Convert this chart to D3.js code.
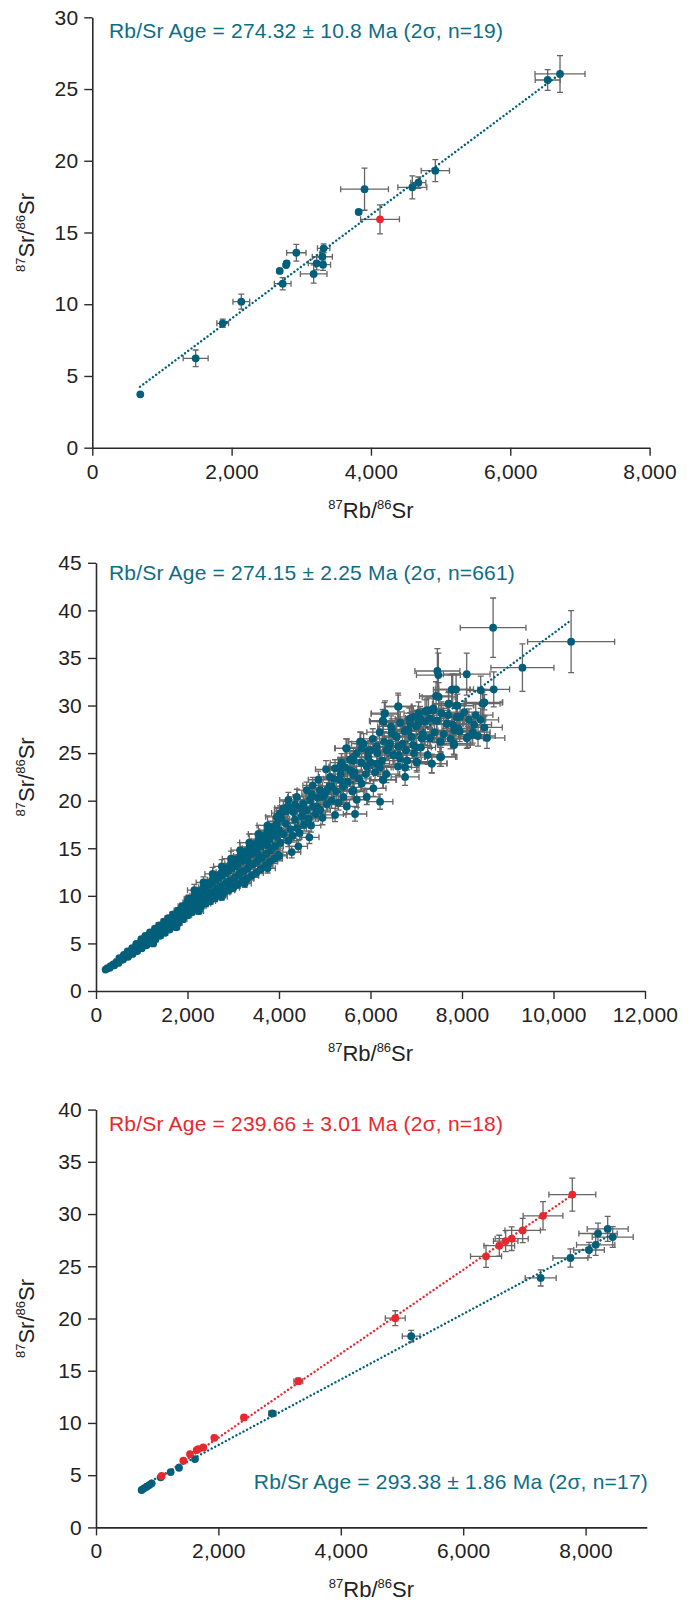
<!DOCTYPE html>
<html>
<head>
<meta charset="utf-8">
<script src="https://cdn.jsdelivr.net/npm/d3@7"></script>
<style>
  body { margin: 0; background: #fff; }
  text { font-family: "Liberation Sans", Arial, Helvetica, sans-serif; }
</style>
</head>
<body>
<div id="chart"></div>
<script>

// ---- values, each point is [x, y, xErr, yErr] ----

// panel A
var aTeal = [
  [689, 3.72, 20, 0.1], [1484, 6.23, 179, 0.58], [1872, 8.67, 84, 0.29], [2139, 10.18, 120, 0.52],
  [2690, 12.32, 30, 0.15], [2781, 12.73, 30, 0.15], [2790, 12.85, 30, 0.15], [2733, 11.43, 120, 0.43],
  [2929, 13.59, 139, 0.58], [3178, 12.11, 191, 0.64], [3221, 12.85, 120, 0.45], [3302, 13.31, 144, 0.4],
  [3312, 12.76, 108, 0.4], [3321, 13.9, 89, 0.31], [3824, 16.43, 30, 0.15], [3908, 18.02, 343, 1.47],
  [4594, 18.15, 208, 0.8], [4680, 18.47, 108, 0.4], [4924, 19.31, 203, 0.77], [6537, 25.63, 179, 0.72],
  [6714, 26.05, 359, 1.28]
];
var aRed = [[4130, 15.92, 279, 1.01]];
var aFit = [[685, 4.25], [6714, 26.05]];

// panel B (dense)
var bTeal = [
  [210,2.25,15,0.08],[250,2.4,15,0.08],[300,2.45,18,0.09],[330,2.65,18,0.09],[400,2.7,22,0.1],[430,2.95,22,0.1],
  [490,2.95,25,0.11],[520,3.2,26,0.11],[510,3.45,26,0.12],
  [590,3.3,30,0.12],[620,3.55,30,0.13],[610,3.8,30,0.13],
  [700,3.6,34,0.13],[720,3.9,35,0.14],[690,4.15,34,0.15],
  [800,3.9,38,0.14],[830,4.25,40,0.15],[790,4.5,38,0.16],
  [900,4.2,42,0.15],[930,4.6,44,0.17],[880,4.95,42,0.18],
  [1000,4.5,46,0.17],[1030,5.0,48,0.18],[990,5.45,46,0.2],
  [1100,4.8,50,0.18],[1120,5.3,52,0.19],[1080,5.8,50,0.21],
  [1200,5.1,55,0.19],[1220,5.65,56,0.2],[1180,6.15,54,0.22],
  [1300,5.45,60,0.2],[1330,6.0,62,0.22],[1290,6.55,60,0.24],
  [1400,5.8,64,0.21],[1420,6.35,65,0.23],[1380,6.9,64,0.25],
  [1500,6.1,68,0.22],[1530,6.7,70,0.24],[1490,7.3,68,0.27],
  [1600,6.45,72,0.24],[1620,7.05,74,0.26],[1580,7.65,72,0.28],
  [1700,6.8,78,0.25],[1720,7.4,79,0.27],[1690,8.05,78,0.3],
  [1800,7.15,82,0.26],[1830,7.8,84,0.28],[1790,8.45,82,0.31],
  [1900,7.55,86,0.27],[1920,8.2,88,0.3],[1880,8.9,86,0.33],
  [2000,7.95,90,0.29],[2030,8.6,92,0.31],[1990,9.3,90,0.34],[2020,9.7,92,0.36],
  [2100,8.3,95,0.3],[2120,8.95,96,0.32],[2090,9.65,95,0.35],[2150,10.0,98,0.37],
  [2200,8.6,100,0.31],[2230,9.3,101,0.34],[2190,10.0,99,0.37],[2250,10.5,102,0.39],
  [2300,8.9,104,0.32],[2320,9.65,105,0.35],[2290,10.4,104,0.38],[2350,10.9,107,0.4],
  [2400,9.2,108,0.34],[2430,10.0,110,0.36],[2390,10.8,108,0.4],[2450,11.3,111,0.42],
  [2500,9.45,113,0.35],[2520,10.3,114,0.38],[2490,11.2,112,0.41],[2550,11.7,116,0.43],
  [2600,9.75,118,0.36],[2630,10.7,119,0.39],[2590,11.6,117,0.43],[2650,12.1,120,0.45],
  [2700,10.05,122,0.37],[2720,11.0,123,0.41],[2690,11.9,122,0.44],[2750,12.5,125,0.46],
  [2800,10.35,127,0.38],[2830,11.3,128,0.42],[2790,12.3,126,0.45],[2850,12.9,129,0.48],
  [2900,10.6,131,0.39],[2920,11.6,132,0.43],[2890,12.6,131,0.47],[2950,13.4,134,0.5],
  [3000,10.85,136,0.4],[3030,11.9,137,0.44],[2990,13.0,135,0.48],[3050,13.8,138,0.51],
  [3100,11.2,140,0.41],[3120,12.2,141,0.45],[3090,13.3,140,0.49],[3150,14.2,143,0.53],
  [3200,11.5,145,0.43],[3230,12.6,146,0.47],[3190,13.7,144,0.51],[3250,14.6,147,0.54],
  [3300,11.8,150,0.44],[3320,12.9,150,0.48],[3290,14.0,149,0.52],[3350,15.0,152,0.56],
  [3400,12.1,154,0.45],[3430,13.3,155,0.49],[3390,14.4,154,0.53],[3450,15.4,156,0.57],
  [3500,12.4,158,0.46],[3520,13.6,159,0.5],[3490,14.8,158,0.55],[3550,15.8,161,0.59],
  [3600,12.8,163,0.47],[3630,14.0,164,0.52],[3590,15.2,162,0.56],[3650,16.3,165,0.6],
  [3700,13.2,167,0.49],[3720,14.4,168,0.53],[3690,15.6,167,0.58],[3750,16.8,170,0.62],
  [3800,13.6,172,0.5],[3830,14.8,173,0.55],[3790,16.0,171,0.59],[3850,17.2,174,0.64],
  [3900,13.9,176,0.51],[3920,15.2,177,0.56],[3890,16.5,176,0.61],[3950,17.6,179,0.65],
  [4000,14.2,181,0.53],[4030,15.6,182,0.58],[4000,16.9,181,0.63],[4050,18.1,183,0.67],
  [2150,10.6,150,0.6],[2350,11.4,160,0.6],[2550,12.3,170,0.7],[2750,13.1,180,0.7],[2950,13.9,190,0.8],[3150,14.8,200,0.8],
  [3350,15.6,210,0.9],[3550,16.5,220,0.9],[3750,17.4,230,1.0],[3950,18.3,240,1.0],[4150,18.9,250,1.0],[4350,19.6,250,1.0],
  [1250,5.0,55,0.2],[1750,6.7,78,0.25],[2250,8.4,100,0.3],[2750,9.9,120,0.35],[3250,11.3,145,0.4],[3750,12.9,170,0.5],
  [1050,5.25,48,0.18],[1450,6.6,66,0.23],[1850,8.1,84,0.3],[2250,9.6,101,0.35],[2650,10.4,120,0.4],[2950,11.25,133,0.42],
  [3150,12.5,142,0.46],[3350,13.4,151,0.49],[3550,14.3,160,0.52],[3750,15.3,169,0.56],[3950,16.3,178,0.6],
  [2784,10.5,130,0.4],[3221,11.66,145,0.45],[3986,14.3,180,0.55],[4278,14.6,195,0.6],[4423,15.2,200,0.6],[4664,16.15,210,0.65],
  [4100,16.5,185,0.65],[4150,17.6,188,0.7],[4200,15.8,190,0.62],[4250,17.0,192,0.68],[4300,16.3,195,0.65],[4350,18.0,197,0.72],
  [4400,17.1,199,0.68],[4450,16.6,201,0.66],[4500,18.4,204,0.74],[4550,17.5,206,0.7],[4600,19.0,208,0.76],[4650,18.1,210,0.72],
  [4700,17.4,213,0.7],[4750,19.4,215,0.78],[4800,18.6,217,0.74],[4850,20.3,219,0.81],[4900,19.0,222,0.76],[4950,18.2,224,0.73],
  [5000,20.7,226,0.83],[5050,19.6,228,0.78],[5100,21.5,231,0.86],[5150,20.0,233,0.8],[5200,22.3,235,0.89],[5250,21.0,237,0.84],
  [5300,19.8,240,0.79],[5350,22.8,242,0.91],[5400,21.5,244,0.86],[5450,23.5,246,0.94],[5500,22.0,249,0.88],[5550,24.3,251,0.97],
  [5600,21.0,253,0.84],[5650,23.0,255,0.92],[5700,25.0,258,1.0],[5750,22.3,260,0.89],[5800,24.0,262,0.96],[5850,26.0,264,1.04],
  [5900,22.8,267,0.91],[5950,25.2,269,1.01],[6000,24.0,271,0.96],[6050,26.5,273,1.06],[6100,23.0,276,0.92],[6150,25.0,278,1.0],
  [6200,27.2,280,1.09],[6250,24.2,282,0.97],[6300,26.2,285,1.05],[6350,22.8,287,0.91],[6400,25.6,289,1.02],[6450,27.8,291,1.11],
  [6500,24.8,294,0.99],[6550,26.8,296,1.07],[6600,23.6,298,0.94],[6650,28.2,300,1.13],[6700,26.0,303,1.04],[6750,27.3,305,1.09],
  [6800,24.2,307,0.97],[6850,28.6,309,1.14],[6900,26.7,312,1.07],[6950,25.0,314,1.0],[7000,27.8,316,1.11],[7050,29.2,318,1.17],
  [7100,25.6,321,1.02],[7150,27.0,323,1.08],[7200,28.3,325,1.13],[7250,24.8,327,0.99],[7400,27.2,334,1.09],[7450,28.4,337,1.14],
  [7550,29.2,341,1.17],[7600,27.0,343,1.08],[7700,29.0,348,1.16],[7750,26.5,350,1.06],[7800,28.0,352,1.12],[7900,30.0,357,1.2],
  [7950,27.3,359,1.09],[8050,29.3,364,1.17],[8150,28.5,368,1.14],[8300,29.0,375,1.16],[8350,26.8,377,1.07],[8450,30.2,382,1.21],
  [5481,25.5,250,1.0],[5772,26.2,260,1.0],[6303,29.1,290,1.2],[6610,29.9,300,1.2],[6282,28.3,285,1.1],
  [5028,23.3,230,0.9],[5225,23.4,240,0.9],[5364,24.0,245,0.95],[5626,24.2,255,0.95],
  [4737,21.6,215,0.85],[4715,20.7,215,0.8],[5043,21.05,230,0.85],[4825,19.4,220,0.75],
  [4460,19.2,205,0.75],[4096,19.2,190,0.75],[5225,18.5,240,0.7],[5662,18.6,255,0.75],[5481,19.4,250,0.75],[6209,19.9,280,0.8],
  [5808,21.8,265,0.85],[6063,21.3,275,0.85],[6267,22.2,285,0.9],[5626,22.7,255,0.9],[5918,23.6,270,0.95],[6137,23.9,280,0.95],
  [6610,25.7,300,1.0],[6756,22.5,305,0.9],[7011,24.1,320,0.95],[7339,23.9,330,0.95],[7521,24.6,340,1.0],
  [6937,25.85,315,1.05],[7120,26.55,320,1.05],[7302,26.55,330,1.05],[7521,26.2,340,1.05],
  [7667,28.1,350,1.1],[7886,28.8,360,1.15],[7922,27.6,360,1.1],[7827,25.85,355,1.05],[8104,26.55,370,1.05],
  [7047,28.1,320,1.1],[7302,28.65,330,1.15],[7375,29.5,335,1.2],[7230,29.5,330,1.2],[7703,30.16,350,1.2],
  [6937,28.8,315,1.15],[6828,27.4,310,1.1],[6465,27.1,295,1.1],[6355,25.3,290,1.0],[6646,24.45,300,1.0],
  [6137,25.7,280,1.0],[5954,24.6,270,1.0],[5553,23.2,250,0.95],[5334,22.2,240,0.9],[5153,21.5,235,0.85],
  [4970,20.4,225,0.8],[4897,21.1,225,0.85],[4679,20.1,215,0.8],[4533,19.7,205,0.8],[4314,18.8,195,0.75],
  [4205,20.07,190,0.8],[4023,18.7,185,0.75],[5626,21.1,255,0.85],[5407,20.4,245,0.8],[5700,20.1,260,0.8],
  [5918,20.4,270,0.8],[5334,23.6,240,0.95],[5116,22.5,235,0.9],[4860,22.2,220,0.9],[4606,21.1,210,0.85],
  [4388,20.4,200,0.8],[4205,19.4,190,0.75],
  [8680,38.18,718,3.12],[10385,36.71,951,3.26],[9321,33.98,689,2.49],[7462,33.63,492,2.36],[7484,33.2,480,2.3],
  [8103,33.3,510,2.2],[8694,31.7,346,1.84],[8409,31.6,310,1.5],[7775,31.66,400,1.6],[7797,31.7,380,1.6],
  [8490,30.34,400,0.8],[7870,30.0,380,1.4],[7490,30.9,360,1.5],[6603,29.9,290,1.4],[6318,29.2,300,1.3],
  [6267,28.4,290,1.2],[5466,25.5,250,1.0],[5786,26.2,260,1.0],[7268,29.5,330,1.3],[7375,29.7,330,1.3],
  [7710,30.2,350,1.3],[7084,28.7,320,1.2],[7193,29.35,330,1.25],[7892,28.8,360,1.2],[7958,28.8,365,1.2],
  [8264,28.0,380,1.2],[8490,27.7,390,1.2],[8409,28.5,390,1.2],[8235,27.2,380,1.15],
  [8125,26.7,370,1.1],[7834,27.4,360,1.15],[7820,26.0,360,1.1],[7536,26.2,345,1.1],[7302,26.6,335,1.1],
  [7120,26.6,325,1.1],[7543,24.6,345,1.0],[7339,23.9,335,1.0],[7011,25.6,320,1.05],[6756,27.4,305,1.1],
  [6865,28.1,310,1.15],[7069,28.4,320,1.15],[6465,27.5,295,1.1],[6574,26.7,300,1.1],[6428,26.0,295,1.05],
  [5991,25.3,275,1.0],[5809,25.5,265,1.0],[5626,24.6,255,1.0],[5335,23.5,240,0.95],[6209,23.5,285,0.95],
  [6610,24.8,300,1.0],[6756,23.5,305,0.95],[6282,22.2,285,0.9],[7011,24.0,320,1.0],[6778,25.3,310,1.0],
  [7433,31.0,360,1.5],[7871,31.7,380,1.6],[8477,30.3,400,1.4],[7675,28.05,350,1.2],[8220,26.95,380,1.1],[8546,26.6,390,1.1]
];
var bFit = [[200, 2.55], [10380, 38.95]];

// panel C
var cRed = [
  [1073, 4.92, 20, 0.1], [1427, 6.38, 25, 0.12], [1536, 7.02, 26, 0.12], [1645, 7.4, 28, 0.13],
  [1672, 7.5, 28, 0.13], [1753, 7.66, 30, 0.13], [1933, 8.58, 32, 0.14], [2418, 10.53, 40, 0.18],
  [3306, 14.0, 72, 0.3], [4890, 20.03, 163, 0.71], [6373, 25.95, 253, 1.06], [6590, 26.97, 250, 1.0],
  [6694, 27.41, 200, 1.0], [6792, 27.64, 270, 1.13], [6972, 28.43, 290, 1.16], [7304, 29.83, 325, 1.35],
  [7783, 31.86, 383, 1.58]
];
var cTeal = [
  [746, 3.58, 15, 0.08], [784, 3.74, 15, 0.08], [828, 3.89, 16, 0.08], [871, 4.05, 16, 0.09],
  [910, 4.22, 18, 0.09], [1057, 4.79, 20, 0.1], [1220, 5.3, 22, 0.1], [1356, 5.71, 24, 0.11],
  [1618, 6.54, 28, 0.12], [2881, 10.91, 60, 0.25], [5150, 18.31, 145, 0.56], [7266, 23.88, 253, 0.77],
  [7752, 25.79, 286, 0.88], [8056, 26.56, 250, 0.73], [8165, 27.05, 313, 1.0], [8203, 28.14, 313, 1.0],
  [8361, 28.58, 335, 1.2], [8443, 27.8, 335, 1.0]
];
var cRedFit = [[1030, 4.7], [7800, 31.9]];
var cTealFit = [[850, 4.28], [8400, 27.97]];

// ticks and labels
var xTicksA = [0, 2000, 4000, 6000, 8000];
var xTicksB = [0, 2000, 4000, 6000, 8000, 10000, 12000];
var xTicksC = [0, 2000, 4000, 6000, 8000];
var yTicksA = [0, 5, 10, 15, 20, 25, 30];
var yTicksB = [0, 5, 10, 15, 20, 25, 30, 35, 40, 45];
var yTicksC = [0, 5, 10, 15, 20, 25, 30, 35, 40];
var labelA = "Rb/Sr Age = 274.32 \u00b1 10.8 Ma (2\u03c3, n=19)";
var labelB = "Rb/Sr Age = 274.15 \u00b1 2.25 Ma (2\u03c3, n=661)";
var labelCRed = "Rb/Sr Age = 239.66 \u00b1 3.01 Ma (2\u03c3, n=18)";
var labelCTeal = "Rb/Sr Age = 293.38 \u00b1 1.86 Ma (2\u03c3, n=17)";

var teal = "#005f7a",
    tealText = "#0e6d86",
    red = "#e8282e",
    barColor = "#666",
    axisColor = "#2b2b2b";

var svg = d3.select("#chart")
  .append("svg")
    .attr("width", 694)
    .attr("height", 1604);

// superscript isotope label, e.g. 87Rb/86Sr
function isoLabel(sel, a, b) {
  sel.append("tspan").attr("font-size", 13).attr("dy", -9).text(a[0]);
  sel.append("tspan").attr("dy", 9).text(a[1] + "/");
  sel.append("tspan").attr("font-size", 13).attr("dy", -9).text(b[0]);
  sel.append("tspan").attr("dy", 9).text(b[1]);
}

function drawPanel(p) {
  var g = svg.append("g");

  var x = d3.scaleLinear().domain(p.xDomain).range([p.left, p.right]);
  var y = d3.scaleLinear().domain(p.yDomain).range([p.bottom, p.top]);

  var xAxis = g.append("g")
    .attr("transform", "translate(0," + p.bottom + ")")
    .call(d3.axisBottom(x).tickValues(p.xTicks).tickFormat(d3.format(","))
      .tickSize(8).tickSizeOuter(0).tickPadding(8));
  var yAxis = g.append("g")
    .attr("transform", "translate(" + p.left + ",0)")
    .call(d3.axisLeft(y).tickValues(p.yTicks).tickSize(8).tickSizeOuter(0).tickPadding(6));

  [xAxis, yAxis].forEach(function(a) {
    a.select(".domain").attr("stroke", axisColor).attr("stroke-width", 1.6);
    a.selectAll(".tick line").attr("stroke", axisColor).attr("stroke-width", 1.4);
    a.selectAll(".tick text")
      .attr("fill", "#222")
      .style("font-size", "21px")
      .style("letter-spacing", "0.2px")
      .style("font-family", '"Liberation Sans", Arial, sans-serif');
  });

  // error bars
  var cap = 3;
  p.series.forEach(function(s) {
    g.append("g").selectAll("path")
      .data(s.data)
      .enter()
      .append("path")
        .attr("d", function(d) {
          var cx = x(d[0]), cy = y(d[1]);
          var x1 = x(d[0] - d[2]), x2 = x(d[0] + d[2]);
          var y1 = y(d[1] + d[3]), y2 = y(d[1] - d[3]);
          return "M" + x1 + "," + cy + "H" + x2 +
                 "M" + x1 + "," + (cy - cap) + "V" + (cy + cap) +
                 "M" + x2 + "," + (cy - cap) + "V" + (cy + cap) +
                 "M" + cx + "," + y1 + "V" + y2 +
                 "M" + (cx - cap) + "," + y1 + "H" + (cx + cap) +
                 "M" + (cx - cap) + "," + y2 + "H" + (cx + cap);
        })
        .attr("fill", "none")
        .attr("stroke", barColor)
        .attr("stroke-width", 1.3);
  });

  // dotted regression lines
  var line = d3.line()
    .x(function(d) { return x(d[0]); })
    .y(function(d) { return y(d[1]); });
  p.fits.forEach(function(f) {
    g.append("path")
      .datum(f.data)
      .attr("d", line)
      .attr("fill", "none")
      .attr("stroke", f.color)
      .attr("stroke-width", 2.4)
      .attr("stroke-linecap", "round")
      .attr("stroke-dasharray", "0.01,4");
  });

  // points
  p.series.forEach(function(s) {
    g.append("g").selectAll("circle")
      .data(s.data)
      .enter()
      .append("circle")
        .attr("cx", function(d) { return x(d[0]); })
        .attr("cy", function(d) { return y(d[1]); })
        .attr("r", 3.9)
        .style("fill", s.color);
  });

  // age annotations
  p.notes.forEach(function(n) {
    g.append("text")
      .attr("x", n.x)
      .attr("y", n.y)
      .attr("text-anchor", n.anchor)
      .attr("fill", n.color)
      .style("font-size", "21px")
      .style("letter-spacing", "0.2px")
      .text(n.text);
  });

  // axis titles
  var xt = g.append("text")
    .attr("x", (p.left + p.right) / 2)
    .attr("y", p.bottom + 70)
    .attr("text-anchor", "middle")
    .attr("fill", "#222")
    .style("font-size", "22px");
  isoLabel(xt, ["87", "Rb"], ["86", "Sr"]);

  var yt = g.append("text")
    .attr("transform", "translate(34," + (p.top + p.bottom) / 2 + ") rotate(-90)")
    .attr("text-anchor", "middle")
    .attr("fill", "#222")
    .style("font-size", "22px");
  isoLabel(yt, ["87", "Sr"], ["86", "Sr"]);
}

drawPanel({
  left: 92.3, right: 649.6, top: 17.3, bottom: 447.7,
  xDomain: [0, 8000], yDomain: [0, 30], xTicks: xTicksA, yTicks: yTicksA,
  series: [{data: aTeal, color: teal}, {data: aRed, color: red}],
  fits: [{data: aFit, color: teal}],
  notes: [{text: labelA, x: 109, y: 38, anchor: "start", color: tealText}]
});

drawPanel({
  left: 96, right: 645, top: 562.8, bottom: 991,
  xDomain: [0, 12000], yDomain: [0, 45], xTicks: xTicksB, yTicks: yTicksB,
  series: [{data: bTeal, color: teal}],
  fits: [{data: bFit, color: teal}],
  notes: [{text: labelB, x: 109, y: 580, anchor: "start", color: tealText}]
});

drawPanel({
  left: 96, right: 646.8, top: 1109.6, bottom: 1527.4,
  xDomain: [0, 9000], yDomain: [0, 40], xTicks: xTicksC, yTicks: yTicksC,
  series: [{data: cTeal, color: teal}, {data: cRed, color: red}],
  fits: [{data: cTealFit, color: teal}, {data: cRedFit, color: red}],
  notes: [
    {text: labelCRed, x: 109, y: 1131, anchor: "start", color: red},
    {text: labelCTeal, x: 648, y: 1489, anchor: "end", color: tealText}
  ]
});

</script>
</body>
</html>
